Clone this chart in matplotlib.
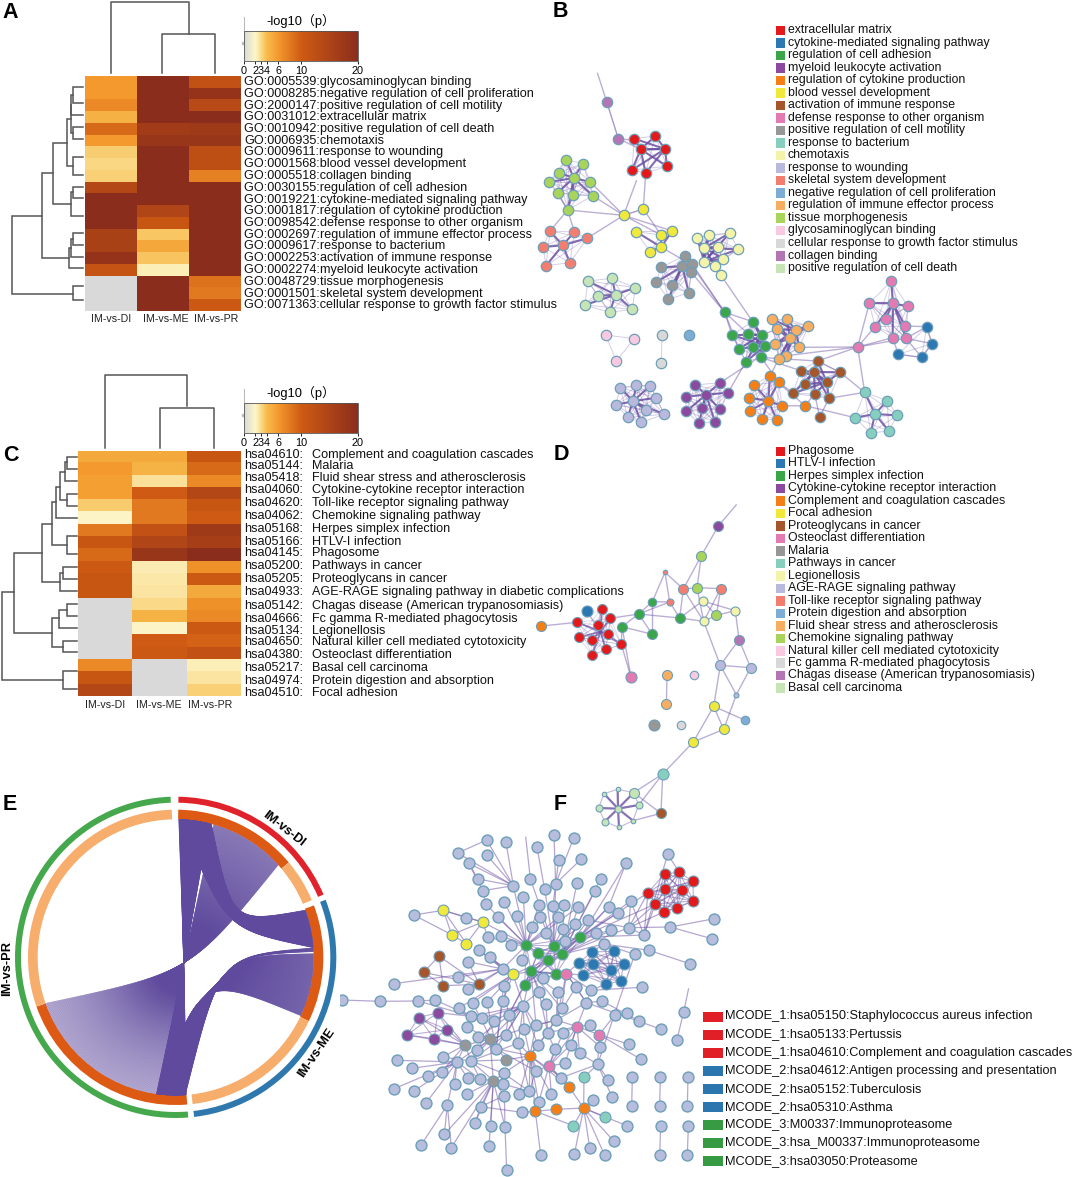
import itertools
import numpy as np
import matplotlib
matplotlib.use('Agg')
import matplotlib.pyplot as plt
from matplotlib.colors import LinearSegmentedColormap, Normalize
from matplotlib.collections import LineCollection
from matplotlib.patches import Wedge, Rectangle

plt.rcParams['font.family'] = ['Liberation Sans', 'Noto Sans CJK SC', 'DejaVu Sans']

W, H = 1072, 1177
nan = np.nan

# ---- panel A / C heatmaps
samples = ['IM-vs-DI', 'IM-vs-ME', 'IM-vs-PR']
go_terms = ['GO:0005539:glycosaminoglycan binding', 'GO:0008285:negative regulation of cell proliferation',
            'GO:2000147:positive regulation of cell motility', 'GO:0031012:extracellular matrix',
            'GO:0010942:positive regulation of cell death', 'GO:0006935:chemotaxis',
            'GO:0009611:response to wounding', 'GO:0001568:blood vessel development',
            'GO:0005518:collagen binding', 'GO:0030155:regulation of cell adhesion',
            'GO:0019221:cytokine-mediated signaling pathway', 'GO:0001817:regulation of cytokine production',
            'GO:0098542:defense response to other organism', 'GO:0002697:regulation of immune effector process',
            'GO:0009617:response to bacterium', 'GO:0002253:activation of immune response',
            'GO:0002274:myeloid leukocyte activation', 'GO:0048729:tissue morphogenesis',
            'GO:0001501:skeletal system development', 'GO:0071363:cellular response to growth factor stimulus']
go_vals = [[6, 20, 12], [6, 20, 18.5], [7, 20, 13.5], [4.6, 20, 20], [9, 16.5, 17], [6, 18, 18],
           [3.4, 20, 12.5], [3.1, 20, 12.5], [3.3, 20, 7.5], [14, 20, 20], [20, 20, 20], [20, 14.5, 20],
           [20, 11, 20], [15.5, 3.6, 20], [15.5, 5.2, 20], [18.5, 3.7, 20], [11.5, 2.3, 20],
           [nan, 20, 8.5], [nan, 20, 8], [nan, 20, 10.5]]
kegg_ids = ['hsa04610', 'hsa05144', 'hsa05418', 'hsa04060', 'hsa04620', 'hsa04062', 'hsa05168', 'hsa05166',
            'hsa04145', 'hsa05200', 'hsa05205', 'hsa04933', 'hsa05142', 'hsa04666', 'hsa05134', 'hsa04650',
            'hsa04380', 'hsa05217', 'hsa04974', 'hsa04510']
kegg_names = ['Complement and coagulation cascades', 'Malaria', 'Fluid shear stress and atherosclerosis',
              'Cytokine-cytokine receptor interaction', 'Toll-like receptor signaling pathway',
              'Chemokine signaling pathway', 'Herpes simplex infection', 'HTLV-I infection', 'Phagosome',
              'Pathways in cancer', 'Proteoglycans in cancer',
              'AGE-RAGE signaling pathway in diabetic complications',
              'Chagas disease (American trypanosomiasis)', 'Fc gamma R-mediated phagocytosis', 'Legionellosis',
              'Natural killer cell mediated cytotoxicity', 'Osteoclast differentiation', 'Basal cell carcinoma',
              'Protein digestion and absorption', 'Focal adhesion']
kegg_vals = [[5, 5, 11], [6, 4.5, 9], [5.7, 2.8, 7], [5.7, 10, 14], [3.5, 8, 11], [2.1, 8, 10],
             [8, 12, 17], [11, 14.5, 16], [9, 18, 20], [10.5, 2.4, 6.5], [11, 2.5, 10.5], [11, 2.6, 5],
             [nan, 3, 6.5], [nan, 4.5, 7], [nan, 2.1, 10.5], [nan, 10, 9.5], [nan, 10.5, 12],
             [7, nan, 2.3], [11, nan, 2.6], [14, nan, 3.3]]
kegg_label_y = [455, 466, 478, 490, 503, 516, 529, 542, 553, 566, 579, 592, 606, 619, 631, 642, 655, 668, 681, 693]

cbar_ticks = [0, 2, 3, 4, 6, 10, 20]

# dendrogram links: x of parent, y1, x1, y2, x2
dend_a = [(219, 50, 250, 100, 250), (213, 75, 219, 135, 250), (219, 172, 250, 208, 250), (213, 105, 213, 190, 219),
          (219, 262, 250, 315, 250), (202, 148, 213, 288, 219), (219, 350, 250, 385, 250), (214, 367, 219, 437, 250),
          (160, 218, 202, 403, 214), (219, 490, 250, 525, 250), (214, 507, 219, 560, 250), (207, 533, 214, 595, 250),
          (126, 310, 160, 565, 207), (37, 437, 126, 672, 219), (219, 648, 250, 690, 250)]
dend_c = [(200, 35, 232, 72, 232), (195, 52, 200, 107, 232), (202, 147, 232, 182, 232), (180, 82, 195, 165, 202),
          (168, 125, 180, 218, 232), (202, 272, 232, 327, 232), (157, 172, 168, 300, 202), (190, 365, 232, 402, 232),
          (180, 385, 190, 438, 232), (126, 237, 157, 410, 180), (202, 477, 232, 512, 232), (178, 495, 202, 548, 232),
          (190, 587, 232, 622, 232), (156, 520, 178, 605, 190), (41, 325, 126, 563, 156), (190, 678, 232, 733, 232),
          (7, 442, 41, 705, 190)]
top_a = [(111, 73, 189, 34, 2), (162, 73, 215, 73, 34)]
top_c = [(105, 448, 187, 406, 375), (160, 448, 214, 448, 408)]

# ---- legends
legend_b = ['extracellular matrix', 'cytokine-mediated signaling pathway', 'regulation of cell adhesion',
            'myeloid leukocyte activation', 'regulation of cytokine production', 'blood vessel development',
            'activation of immune response', 'defense response to other organism',
            'positive regulation of cell motility', 'response to bacterium', 'chemotaxis', 'response to wounding',
            'skeletal system development', 'negative regulation of cell proliferation',
            'regulation of immune effector process', 'tissue morphogenesis', 'glycosaminoglycan binding',
            'cellular response to growth factor stimulus', 'collagen binding', 'positive regulation of cell death']
legend_d = ['Phagosome', 'HTLV-I infection', 'Herpes simplex infection', 'Cytokine-cytokine receptor interaction',
            'Complement and coagulation cascades', 'Focal adhesion', 'Proteoglycans in cancer',
            'Osteoclast differentiation', 'Malaria', 'Pathways in cancer', 'Legionellosis',
            'AGE-RAGE signaling pathway', 'Toll-like receptor signaling pathway', 'Protein digestion and absorption',
            'Fluid shear stress and atherosclerosis', 'Chemokine signaling pathway',
            'Natural killer cell mediated cytotoxicity', 'Fc gamma R-mediated phagocytosis',
            'Chagas disease (American trypanosomiasis)', 'Basal cell carcinoma']
palette = ['#e31a1c', '#2b78b2', '#3ba549', '#8c4a9e', '#f57f17', '#f0e93c', '#a5562b', '#e47ab2', '#979797',
           '#86cfbe', '#f3f3a9', '#b8b9dc', '#f37d6f', '#7dadd4', '#f7ae60', '#a8d45c', '#f8c9e0', '#d8d8d8',
           '#b475b5', '#c6e4b6']
legend_f = ['MCODE_1:hsa05150:Staphylococcus aureus infection', 'MCODE_1:hsa05133:Pertussis',
            'MCODE_1:hsa04610:Complement and coagulation cascades', 'MCODE_2:hsa04612:Antigen processing and presentation',
            'MCODE_2:hsa05152:Tuberculosis', 'MCODE_2:hsa05310:Asthma', 'MCODE_3:M00337:Immunoproteasome',
            'MCODE_3:hsa_M00337:Immunoproteasome', 'MCODE_3:hsa03050:Proteasome']
legend_f_col = ['#e01f26'] * 3 + ['#2b76ae'] * 3 + ['#379b44'] * 3

# ---- network B: node groups (palette index, hub node indices)
net_b = [
    (0, [2, 3], [(313, 236), (376, 228), (332, 268), (405, 267), (306, 330), (347, 339), (411, 319)]),
    (18, [], [(230, 125), (265, 236)]),
    (15, [3], [(108, 299), (159, 311), (86, 338), (131, 354), (58, 366), (181, 366), (83, 398), (129, 405), (188, 407), (113, 450)]),
    (12, [3], [(60, 513), (133, 516), (171, 535), (98, 556), (39, 561), (120, 608), (48, 617)]),
    (5, [3], [(318, 515), (393, 525), (427, 513), (393, 561), (360, 575)]),
    (5, [], [(281, 466), (340, 447)]),
    (10, [3, 7], [(501, 534), (537, 525), (599, 519), (523, 564), (563, 560), (624, 568), (580, 596), (523, 605), (555, 617)]),
    (8, [2], [(465, 587), (393, 622), (457, 619), (486, 611), (484, 637), (379, 666), (427, 675), (476, 698), (415, 718)]),
    (19, [4], [(173, 663), (246, 655), (316, 683), (205, 708), (257, 704), (165, 735), (239, 757), (307, 748)]),
    (16, [], [(227, 825), (313, 836), (259, 903)]),
    (17, [], [(396, 824), (394, 909)]),
    (13, [], [(476, 824)]),
    (2, [3, 6], [(668, 785), (606, 825), (655, 822), (695, 825), (627, 866), (670, 862), (705, 857), (648, 905), (693, 892)]),
    (14, [3, 5], [(725, 777), (770, 777), (740, 808), (797, 810), (835, 798), (780, 835), (736, 851), (808, 862), (769, 887), (747, 896)]),
    (6, [2, 5], [(863, 903), (812, 932), (852, 936), (930, 937), (824, 973), (890, 966), (789, 1000), (854, 1002), (897, 1015)]),
    (4, [4], [(720, 947), (672, 974), (746, 966), (656, 1013), (715, 1022), (756, 1038), (660, 1052), (697, 1077), (740, 1079)]),
    (3, [4], [(495, 975), (571, 968), (594, 998), (467, 1010), (528, 1004), (516, 1045), (569, 1047), (469, 1054), (507, 1089), (555, 1085)]),
    (11, [5], [(271, 983), (319, 976), (361, 977), (378, 1013), (258, 1034), (309, 1024), (349, 1050), (403, 1063), (293, 1072), (334, 1087)]),
    (7, [2], [(1084, 663), (1018, 730), (1089, 730), (1134, 739), (1067, 776), (1035, 800), (1125, 798), (1088, 833), (1128, 835)]),
    (1, [], [(1190, 800), (1206, 851), (1105, 883), (1175, 892)]),
    (9, [3], [(1004, 997), (1072, 1022), (975, 1073), (1035, 1062), (1102, 1066), (1022, 1119), (1076, 1113)]),
]
extra_b = [(584, 757, 2), (573, 646, 10), (983, 861, 7), (825, 1037, 4), (869, 1071, 6)]
links_b = [((202, 38), (230, 125)), ((230, 125), (265, 236)), ((265, 236), (332, 268)), ((265, 236), (313, 236)),
           ((347, 339), (340, 447)), ((320, 360), (281, 466)), ((281, 466), (340, 447)), ((113, 450), (281, 466)),
           ((188, 407), (281, 466)), ((181, 366), (281, 466)), ((171, 535), (281, 466)), ((133, 516), (113, 450)),
           ((60, 513), (113, 450)), ((113, 450), (129, 405)), ((113, 450), (83, 398)), ((281, 466), (393, 525)),
           ((340, 447), (393, 525)), ((427, 513), (281, 466)), ((393, 561), (465, 603)), ((465, 587), (584, 757)),
           ((486, 611), (584, 757)), ((484, 637), (584, 757)), ((573, 646), (668, 785)), ((555, 617), (573, 646)),
           ((584, 757), (606, 825)), ((584, 757), (655, 822)), ((584, 757), (668, 785)), ((584, 757), (627, 866)),
           ((693, 892), (747, 896)), ((705, 857), (736, 851)), ((695, 825), (740, 808)), ((693, 892), (746, 966)),
           ((693, 892), (812, 932)), ((747, 896), (720, 947)), ((747, 896), (863, 903)), ((863, 903), (983, 861)),
           ((808, 862), (983, 861)), ((769, 887), (983, 861)), ((983, 861), (1035, 800)), ((983, 861), (1088, 833)),
           ((983, 861), (1128, 835)), ((983, 861), (1018, 730)), ((983, 861), (1004, 997)), ((1128, 835), (1190, 800)),
           ((1128, 835), (1206, 851)), ((1125, 798), (1190, 800)), ((1088, 833), (1105, 883)), ((1128, 835), (1175, 892)),
           ((1190, 800), (1206, 851)), ((1105, 883), (1175, 892)), ((1206, 851), (1175, 892)), ((571, 968), (705, 880)),
           ((648, 905), (594, 998)), ((720, 947), (825, 1037)), ((746, 966), (789, 1000)), ((756, 1038), (825, 1037)),
           ((825, 1037), (854, 1002)), ((854, 1002), (869, 1071)), ((897, 1015), (869, 1071)), ((825, 1037), (975, 1073)),
           ((897, 1015), (1004, 997)), ((930, 937), (1004, 997)), ((863, 903), (930, 937))]

# ---- network D: groups like above, each point (x, y, size factor)
net_d = [
    (3, [(565, 108, 1)]), (15, [(514, 197, 1), (501, 293, 1), (559, 376, 1)]),
    (12, [(405, 247, .45), (460, 297, 1), (572, 296, 1), (419, 336, .7)]),
    (2, [(367, 335, .85), (326, 372, 1), (276, 410, 1), (449, 384, 1), (367, 433, 1)]),
    (10, [(518, 333, .9), (521, 394, .9), (616, 362, .9)]), (18, [(627, 449, 1)]),
    (0, [(215, 356, 1), (142, 397, 1), (241, 385, 1), (204, 406, 1), (235, 432, 1), (146, 442, 1), (185, 449, 1), (274, 463, 1), (227, 478, 1), (186, 495, 1)]),
    (1, [(170, 364, 1.1)]), (4, [(34, 408, 1)]), (7, [(303, 562, 1.1)]), (14, [(411, 556, 1), (409, 642, 1)]),
    (16, [(491, 556, .85)]), (11, [(571, 526, 1), (662, 533, 1), (619, 614, .5)]),
    (5, [(551, 649, 1), (581, 718, 1), (490, 756, 1)]), (13, [(646, 691, .85)]), (8, [(373, 704, 1.1)]), (17, [(453, 705, .85)]),
    (9, [(398, 852, 1.1)]),
    (19, [(311, 908, 1), (263, 898, .45), (222, 911, .45), (326, 945, .7), (206, 954, .7), (264, 956, .7), (224, 995, .7), (309, 992, .45), (267, 1012, .45)]),
    (6, [(393, 970, 1)]),
]
links_d = [((620, 43), (565, 108)), ((565, 108), (514, 197)), ((514, 197), (460, 297)), ((514, 197), (501, 293)),
           ((405, 247), (367, 335)), ((405, 247), (419, 336)), ((405, 247), (460, 297)), ((460, 297), (501, 293)),
           ((501, 293), (572, 296)), ((460, 297), (521, 394)), ((460, 297), (449, 384)), ((501, 293), (521, 394)),
           ((572, 296), (521, 394)), ((572, 296), (559, 376)), ((518, 333), (559, 376)), ((518, 333), (616, 362)),
           ((559, 376), (616, 362)), ((559, 376), (521, 394)), ((449, 384), (521, 394)), ((449, 384), (518, 333)),
           ((419, 336), (449, 384)), ((367, 335), (419, 336)), ((326, 372), (367, 335)), ((326, 372), (419, 336)),
           ((326, 372), (449, 384)), ((367, 335), (367, 433)), ((326, 372), (367, 433)), ((276, 410), (367, 433)),
           ((276, 410), (326, 372)), ((241, 385), (326, 372)), ((276, 410), (274, 463)), ((276, 410), (303, 562)),
           ((274, 463), (303, 562)), ((34, 408), (142, 397)), ((170, 364), (212, 425)), ((616, 362), (627, 449)),
           ((627, 449), (571, 526)), ((627, 449), (662, 533)), ((521, 394), (571, 526)), ((571, 526), (662, 533)),
           ((571, 526), (619, 614)), ((662, 533), (619, 614)), ((571, 526), (551, 649)), ((619, 614), (581, 718)),
           ((551, 649), (581, 718)), ((551, 649), (646, 691)), ((551, 649), (490, 756)), ((581, 718), (490, 756)),
           ((490, 756), (398, 852)), ((398, 852), (311, 908)), ((398, 852), (326, 945)), ((398, 852), (393, 970)),
           ((311, 908), (393, 970)), ((309, 992), (393, 970)), ((411, 556), (409, 642))]
hub_d = (264, 956)
ring_d = [(263, 898), (222, 911), (206, 954), (224, 995), (267, 1012), (309, 992), (326, 945), (311, 908)]
red_hub_d = (212, 425)

# ---- network F
f_plain = [(440, 60), (498, 67), (353, 99), (441, 106), (386, 130), (591, 82), (642, 46), (701, 54), (656, 120), (724, 117), (858, 130), (983, 103), (414, 177), (429, 212), (520, 197), (571, 176), (647, 191), (711, 190), (782, 176), (765, 213), (614, 208), (550, 232), (492, 245), (437, 252), (221, 285), (379, 293), (473, 292), (531, 287), (596, 256), (639, 257), (672, 254), (715, 261), (806, 260), (872, 243), (835, 278), (601, 291), (654, 292), (745, 300), (705, 312), (576, 322), (668, 327), (618, 340), (813, 331), (767, 339), (866, 323), (912, 345), (991, 321), (1123, 296), (1115, 356), (443, 352), (483, 348), (512, 376), (675, 363), (791, 372), (884, 403), (927, 391), (1049, 431), (416, 390), (450, 411), (384, 425), (546, 419), (488, 447), (353, 472), (383, 506), (491, 497), (610, 475), (708, 501), (754, 511), (905, 502), (161, 491), (119, 544), (235, 543), (286, 540), (356, 565), (398, 548), (441, 547), (488, 543), (550, 557), (597, 516), (653, 517), (618, 551), (665, 565), (739, 548), (787, 543), (824, 585), (860, 580), (896, 602), (964, 628), (1031, 575), (1011, 659), (393, 589), (427, 594), (461, 603), (506, 585), (649, 600), (588, 615), (751, 615), (381, 622), (552, 626), (623, 638), (669, 638), (415, 652), (497, 644), (535, 669), (593, 674), (692, 674), (780, 680), (866, 673), (903, 718), (410, 690), (468, 686), (644, 688), (719, 700), (172, 721), (308, 711), (215, 745), (351, 726), (393, 723), (305, 755), (265, 768), (163, 806), (222, 813), (344, 791), (383, 775), (420, 777), (491, 760), (488, 792), (587, 753), (664, 773), (675, 730), (773, 733), (805, 780), (258, 849), (381, 822), (322, 855), (422, 860), (493, 827), (538, 821), (568, 814), (634, 823), (596, 847), (760, 840), (816, 831), (546, 877), (405, 909), (313, 943), (452, 917), (495, 921), (860, 917), (244, 974), (334, 983), (447, 979), (822, 964), (749, 983), (703, 1003), (602, 1004), (794, 1006), (500, 1051), (877, 772), (875, 859), (961, 772), (959, 859), (1044, 772), (1042, 859), (962, 918), (959, 1005), (1045, 918), (1042, 1005), (5, 540)]
f_groups = [
    ('#e31a1c', [(974, 161), (1018, 157), (1059, 184), (924, 218), (976, 207), (1025, 209), (1060, 243), (946, 252), (972, 276), (1011, 264)]),
    ('#2b78b2', [(755, 396), (823, 394), (717, 428), (759, 432), (851, 431), (812, 449), (728, 465), (842, 483), (798, 492)]),
    ('#3ba549', [(721, 352), (559, 375), (641, 378), (594, 398), (666, 403), (624, 419), (573, 454), (647, 462), (554, 496)]),
    ('#8c4a9e', [(236, 593), (293, 578), (322, 629), (201, 645), (283, 656)]),
]
f_single = [('#f0e93c', [(310, 271), (428, 306), (335, 344), (379, 371), (519, 463)]),
            ('#a5562b', [(297, 408), (251, 457), (309, 497), (418, 493)]),
            ('#979797', [(375, 675), (450, 658), (499, 720), (460, 782)]),
            ('#f57f17', [(570, 707), (688, 802), (586, 874), (648, 868), (731, 864)]),
            ('#e47ab2', [(679, 461), (711, 620), (778, 644), (627, 738)]),
            ('#86cfbe', [(732, 772), (795, 892), (700, 917)])]
f_stars = [
    ((520, 197), [(440, 60), (353, 99), (441, 106), (386, 130), (414, 177), (429, 212), (498, 67)]),
    ((559, 375), [(520, 197), (550, 232), (492, 245), (437, 252), (531, 287), (596, 256), (576, 322), (473, 292), (618, 340), (512, 376), (443, 352), (483, 348), (546, 419), (654, 292), (601, 291), (715, 261)]),
    ((641, 378), [(571, 176), (614, 208), (639, 257), (601, 291), (654, 292), (668, 327), (618, 340), (675, 363), (705, 312), (745, 300), (647, 191)]),
    ((666, 403), [(672, 254), (715, 261), (711, 190), (782, 176), (765, 213), (745, 300), (767, 339), (791, 372), (813, 331), (866, 323), (806, 260)]),
    ((721, 352), [(858, 130), (806, 260), (835, 278), (872, 243), (912, 345), (813, 331), (924, 218), (946, 252)]),
    ((866, 323), [(872, 243), (924, 218), (946, 252), (972, 276), (991, 321), (912, 345), (745, 300)]),
    ((912, 345), [(983, 103), (924, 218), (946, 252), (872, 243)]),
    ((488, 447), [(416, 390), (450, 411), (384, 425), (519, 463), (353, 472), (383, 506), (559, 375), (161, 491)]),
    ((519, 463), [(491, 497), (550, 557), (488, 543), (441, 547), (398, 548), (356, 565), (450, 411), (573, 454), (624, 419), (416, 390)]),
    ((573, 454), [(610, 475), (597, 516), (653, 517), (618, 551), (550, 557), (665, 565), (506, 585), (588, 615), (647, 462), (679, 461)]),
    ((679, 461), [(708, 501), (754, 511), (739, 548), (649, 600), (665, 565), (728, 465), (717, 428), (610, 475)]),
    ((550, 557), [(506, 585), (461, 603), (427, 594), (393, 589), (552, 626), (535, 669), (468, 686), (497, 644), (415, 652), (588, 615), (593, 674), (450, 658)]),
    ((450, 658), [(381, 622), (415, 652), (410, 690), (468, 686), (393, 723), (351, 726), (375, 675), (497, 644), (499, 720), (460, 782), (552, 626)]),
    ((375, 675), [(236, 593), (293, 578), (322, 629), (283, 656), (201, 645), (308, 711), (351, 726), (393, 723), (305, 755)]),
    ((351, 726), [(172, 721), (215, 745), (265, 768), (163, 806), (222, 813), (344, 791), (258, 849), (322, 855), (383, 775), (420, 777)]),
    ((460, 782), [(420, 777), (488, 792), (491, 760), (422, 860), (381, 822), (405, 909), (452, 917), (495, 921), (447, 979), (493, 827), (313, 943), (334, 983), (393, 723)]),
    ((322, 855), [(244, 974), (334, 983), (313, 943)]),
    ((570, 707), [(535, 669), (593, 674), (552, 626), (588, 615), (623, 638), (499, 720), (587, 753), (538, 821), (568, 814), (634, 823), (596, 847), (491, 760), (664, 773), (688, 802), (586, 874)]),
    ((627, 738), [(644, 688), (692, 674), (675, 730), (669, 638), (711, 620), (587, 753), (664, 773), (634, 823), (688, 802), (596, 847)]),
    ((711, 620), [(751, 615), (692, 674), (669, 638), (739, 548), (780, 680), (719, 700), (778, 644), (675, 730), (623, 638), (649, 600)]),
    ((778, 644), [(866, 673), (903, 718), (780, 680), (824, 585), (773, 733), (751, 615)]),
    ((731, 864), [(732, 772), (795, 892), (700, 917), (648, 868), (703, 1003), (749, 983), (794, 1006), (822, 964), (760, 840), (688, 802), (860, 917)]),
    ((586, 874), [(648, 868), (602, 1004), (546, 877), (596, 847), (700, 917)]),
    ((422, 860), [(546, 877), (493, 827), (405, 909)]),
    ((495, 921), [(500, 1051), (493, 827)]),
    ((647, 191), [(642, 46), (701, 54), (656, 120), (724, 117), (639, 257)]),
    ((310, 271), [(335, 344), (379, 371), (428, 306), (379, 293), (221, 285)]),
    ((335, 344), [(428, 306), (379, 371), (221, 285)]),
    ((428, 306), [(379, 371), (379, 293), (443, 352), (559, 375)]),
    ((418, 493), [(251, 457), (309, 497), (383, 506), (488, 447), (384, 425), (297, 408)]),
    ((297, 408), [(251, 457), (309, 497)]),
    ((309, 497), [(251, 457)]),
    ((739, 548), [(787, 543), (964, 628), (708, 501), (754, 511)]),
    ((754, 511), [(905, 502), (798, 492)]),
    ((773, 733), [(805, 780), (664, 773), (719, 700), (816, 831), (732, 772), (884, 403)]),
    ((791, 372), [(884, 403), (927, 391), (812, 449), (755, 396)]),
    ((393, 589), [(356, 565), (286, 540), (235, 543), (293, 578), (381, 622)]),
    ((393, 723), [(461, 603), (497, 644), (535, 669), (499, 720), (491, 760), (420, 777), (308, 711)]),
    ((468, 686), [(398, 548), (441, 547), (491, 497), (488, 543), (570, 707), (587, 753)]),
    ((506, 585), [(491, 497), (554, 496), (597, 516), (535, 669), (497, 644)]),
    ((623, 638), [(597, 516), (618, 551), (665, 565), (708, 501), (593, 674), (644, 688)]),
    ((649, 600), [(653, 517), (739, 548), (588, 615), (552, 626)]),
    ((568, 814), [(491, 760), (587, 753), (535, 669), (488, 792)]),
]
f_pairs = [((877, 772), (875, 859)), ((961, 772), (959, 859)), ((1044, 772), (1042, 859)), ((962, 918), (959, 1005)),
           ((1045, 918), (1042, 1005)), ((1031, 575), (1011, 659)), ((1031, 575), (1046, 505)), ((5, 540), (119, 544)),
           ((119, 544), (235, 543)), ((235, 543), (286, 540)), ((786, 543), (896, 602)), ((824, 585), (860, 580)),
           ((927, 391), (1049, 431)), ((991, 321), (1123, 296)), ((991, 321), (1115, 356)), ((983, 103), (1018, 157)),
           ((591, 82), (614, 208)), ((557, 50), (571, 176)), ((858, 130), (806, 260)), ((414, 177), (386, 130)),
           ((353, 99), (440, 60)), ((386, 130), (429, 212)), ((429, 212), (437, 252))]

# ---- chord panel E: ring sectors (start, end angle, colour), chord bundles
outer_arcs = [(23, 89, '#e0222b'), (-83.4, 21, '#2f78ae'), (91.8, 274.5, '#46a84c')]
inner_arcs = [(40, 89, '#dc5a14'), (22.8, 40, '#f7ad6c'), (-25.6, 20.6, '#dc5a14'), (-83.4, -25.6, '#f7ad6c'),
              (199.5, 274.5, '#dc5a14'), (91.5, 199.5, '#f7ad6c')]
# a0, a1 on one arc, b0, b1 on the other, gene count, waist x, y for first and last chord (crop units), line width
chord_bundles = [(88.7, 76, 274.4, 262, 170, 551, 520, 551, 520, .5),
                 (88, 75, 4, 20, 240, 693, 384, 716, 358, .4),
                 (74, 42, 262, 199.5, 240, 552, 518, 552, 518, .3),
                 (3.9, 2.4, 274, 273, 14, 682, 546, 680, 548, .5),
                 (1.5, -25, 273, 262, 230, 680, 548, 625, 614, .36)]
ring_labels = [('IM-vs-DI', 850, 118, -38), ('IM-vs-ME', 950, 788, 56), ('IM-vs-PR', 20, 535, 90)]

# letter, x, baseline y
panel_letters = [('A', 2, 18), ('B', 553, 17), ('C', 3, 461), ('D', 554, 460), ('E', 3, 810), ('F', 554, 810)]

colors = [(0, '#d9d9d9'), (1, '#ece9cf'), (2, '#fdf6ca'), (3, '#fad987'), (4, '#f7bb4d'), (6, '#f3992d'), (10, '#cf5b13'), (20, '#8b2d1c')]
cmap = LinearSegmentedColormap.from_list('logp', [(v / 20, c) for v, c in colors])
cmap.set_bad('#d9d9d9')
norm = Normalize(0, 20)
EDGE = '#6a4fa3'


def px_axes(x, y, w, h):
    ax = fig.add_axes([x / W, 1 - (y + h) / H, w / W, h / H])
    return ax


def crop_axes(x, y, w, h):
    # axes whose data units are three times the page pixels
    ax = px_axes(x, y, w, h)
    ax.set_xlim(0, w * 3)
    ax.set_ylim(h * 3, 0)
    ax.axis('off')
    ax.patch.set_alpha(0)
    return ax


def draw_dendro(ax, links):
    for xp, y1, x1, y2, x2 in links:
        ax.plot([x1, xp, xp, x2], [y1, y1, y2, y2], color='#555555', lw=1.1, solid_joinstyle='miter')


def draw_heat(x, y, w, h, vals, col_x, cbar_y, title_y):
    ax = px_axes(x, y, w, h)
    im = ax.imshow(np.array(vals), cmap=cmap, norm=norm, aspect='auto', interpolation='nearest')
    ax.axis('off')
    cax = px_axes(244, cbar_y, 114, 30)
    cb = fig.colorbar(im, cax=cax, orientation='horizontal', ticks=cbar_ticks)
    cb.ax.tick_params(labelsize=7.8, length=2.5, width=.6, pad=1)
    cb.outline.set_edgecolor('#555555')
    cb.outline.set_linewidth(.6)
    page.text(301, title_y, '-log10（p）', fontsize=9.3, ha='center', va='center')
    page.plot([244, 244], [cbar_y - 14, cbar_y], color='#bbbbbb', lw=.8)
    page.plot([242.5], [cbar_y + 12], marker='o', ms=1.6, color='#bbbbbb')
    for name, cx in zip(samples, col_x):
        page.text(cx, y + h + 8, name, fontsize=7.7, ha='center', va='center', color='#222222')


def net_segments(ax, segs, lw, alpha):
    ax.add_collection(LineCollection(segs, colors=EDGE, linewidths=lw, alpha=alpha, zorder=1))


def nodes(ax, pts, col, s=44, lw=.9):
    pts = np.array(pts, dtype=float)
    ax.scatter(pts[:, 0], pts[:, 1], s=s, c=col, edgecolors='#6d9fb9', linewidths=lw, zorder=3)


fig = plt.figure(figsize=(W / 100, H / 100), dpi=100)
page = fig.add_axes([0, 0, 1, 1])
page.set_xlim(0, W)
page.set_ylim(H, 0)
page.axis('off')

# panel A
draw_heat(85, 76, 156, 235, go_vals, [111.5, 165.5, 216], 31, 21)
for i, t in enumerate(go_terms):
    page.text(244, 82 + 11.75 * i, t, fontsize=9.05, va='center', color='#111111')
draw_dendro(crop_axes(0, 70, 90, 240), dend_a)
for x0, y0, x1, y1, y2 in top_a:
    page.plot([x0, x0, x1, x1], [y0, y2, y2, y1], color='#555555', lw=1.1)

# panel C
draw_heat(78, 451.5, 163, 245, kegg_vals, [105.5, 159, 210.5], 403, 393)
for yy, code, nm in zip(kegg_label_y, kegg_ids, kegg_names):
    page.text(244, yy, code + ':', fontsize=9.05, va='center', color='#111111')
    page.text(312, yy, nm, fontsize=9.05, va='center', color='#111111')
draw_dendro(crop_axes(0, 445, 90, 255), dend_c)
for x0, y0, x1, y1, y2 in top_c:
    page.plot([x0, x0, x1, x1], [y0, y2, y2, y1], color='#555555', lw=1.1)

# legends B, D
for names, y0, dy, fs in [(legend_b, 30, 12.53, 8.82), (legend_d, 451, 12.47, 8.95)]:
    for i, nm in enumerate(names):
        yy = y0 + dy * i
        page.add_patch(Rectangle((776, yy - 4.5), 9, 9.5, fc=palette[i], ec='none'))
        page.text(788, yy, nm, fontsize=fs, va='center', color='#111111')

# legend F
for i, (nm, c) in enumerate(zip(legend_f, legend_f_col)):
    yy = 1016.5 + 18.05 * i
    page.add_patch(Rectangle((703, yy - 5), 20, 10, fc=c, ec='none'))
    page.text(725, yy, nm, fontsize=9.15, va='center', color='#111111')

# panel letters
for s, lx, ly in panel_letters:
    page.text(lx, ly, s, fontsize=15.5, fontweight='bold', ha='left', va='baseline', color='black')

# network B
ax_b = crop_axes(530, 60, 420, 390)
for idx, hubs, pts in net_b:
    segs = list(itertools.combinations(pts, 2))
    net_segments(ax_b, segs, .7, .28)
    for h_i in hubs:
        net_segments(ax_b, [(pts[h_i], p) for p in pts if p != pts[h_i]], 1.5, .8)
    nodes(ax_b, pts, palette[idx], s=56)
for x, y, idx in extra_b:
    nodes(ax_b, [(x, y)], palette[idx], s=56)
net_segments(ax_b, links_b, 1.0, .45)

# network D
ax_d = crop_axes(530, 490, 240, 360)
net_segments(ax_d, links_d, 1.0, .45)
net_segments(ax_d, [(hub_d, p) for p in ring_d], 1.6, .8)
net_segments(ax_d, list(zip(ring_d, ring_d[1:] + ring_d[:1])), .8, .4)
for idx, pts in net_d:
    xy = [(p[0], p[1]) for p in pts]
    if idx == 0:
        net_segments(ax_d, list(itertools.combinations(xy, 2)), .5, .28)
        net_segments(ax_d, [(red_hub_d, p) for p in xy], 1.3, .75)
    for p in pts:
        nodes(ax_d, [(p[0], p[1])], palette[idx], s=52 * p[2] ** 2, lw=.8)

# network F
ax_f = crop_axes(340, 820, 380, 357)
star_segs = [(hub, end) for hub, ends in f_stars for end in ends]
net_segments(ax_f, star_segs, .9, .5)
net_segments(ax_f, f_pairs, .9, .5)
for col, pts in f_groups:
    net_segments(ax_f, list(itertools.combinations(pts, 2)), .8, .45)
nodes(ax_f, f_plain, '#b7bddc', s=62, lw=1)
for col, pts in f_groups + f_single:
    nodes(ax_f, pts, col, s=62, lw=.8)

# panel E
ax_e = px_axes(0, 790, 360, 350)
ax_e.set_xlim(-527, 553)
ax_e.set_ylim(-548, 502)
ax_e.axis('off')
ax_e.patch.set_alpha(0)
for a, b, c in outer_arcs:
    ax_e.add_patch(Wedge((0, 0), 482, a, b, width=18, fc=c, ec='none'))
for a, b, c in inner_arcs:
    ax_e.add_patch(Wedge((0, 0), 443, a, b, width=29, fc=c, ec='none'))
R = 414
t = np.linspace(0, 1, 50)[:, None]
for a0, a1, b0, b1, n, wx0, wy0, wx1, wy1, lw in chord_bundles:
    aa = np.radians(np.linspace(a0, a1, n))
    bb = np.radians(np.linspace(b0, b1, n))
    wxs = np.linspace(wx0, wx1, n) - 527
    wys = 502 - np.linspace(wy0, wy1, n)
    segs = []
    for a, b, wx, wy in zip(aa, bb, wxs, wys):
        p0 = R * np.array([np.cos(a), np.sin(a)])
        p2 = R * np.array([np.cos(b), np.sin(b)])
        # cubic with both handles on one point so that the curve meets the bundle waist
        c = (np.array([wx, wy]) - (p0 + p2) / 8) * 4 / 3
        segs.append((1 - t) ** 3 * p0 + 3 * t * (1 - t) * c + t ** 3 * p2)
    ax_e.add_collection(LineCollection(segs, colors='#5f4a9e', linewidths=lw, alpha=.85))
for s, zx, zy, rot in ring_labels:
    ax_e.text(zx - 527, 502 - zy, s, fontsize=9.3, fontweight='bold', rotation=rot, ha='center', va='center', rotation_mode='anchor')

fig.savefig('out.png', dpi=100)
